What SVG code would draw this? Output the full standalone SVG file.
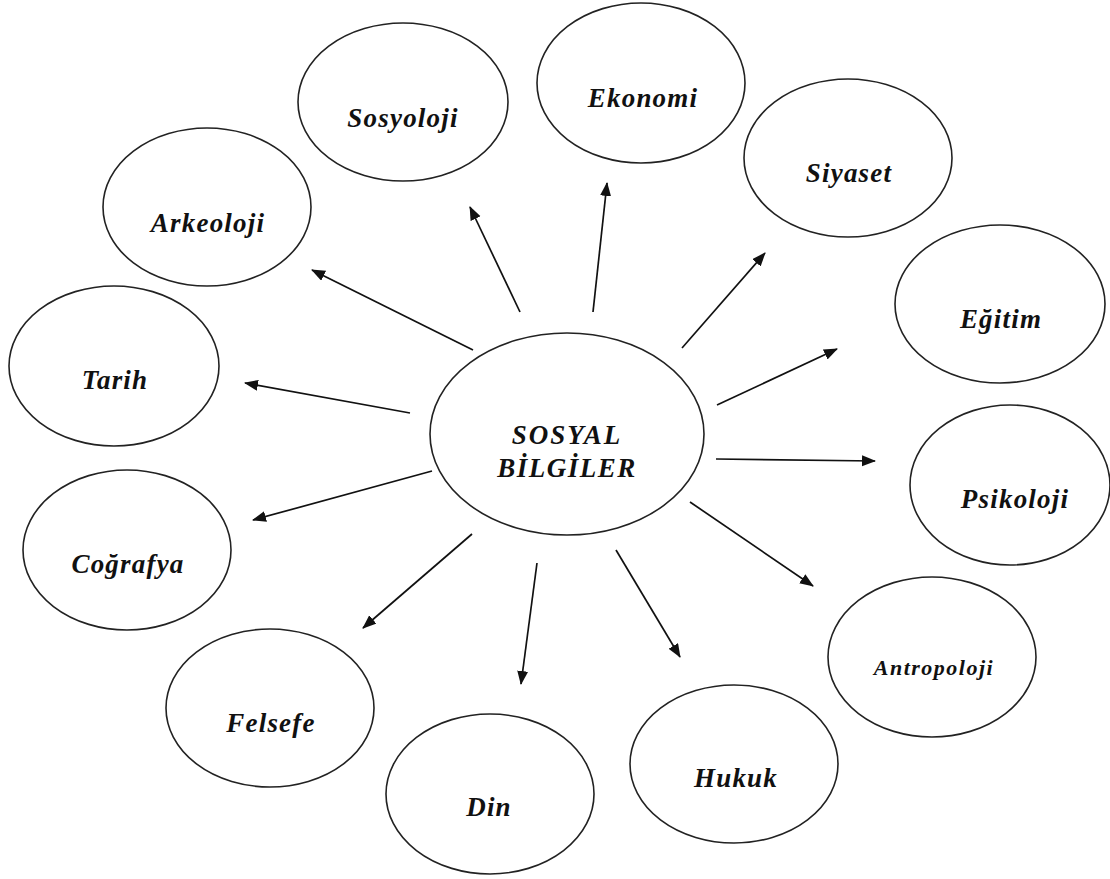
<svg xmlns="http://www.w3.org/2000/svg" width="1110" height="879" viewBox="0 0 1110 879">
<style>
.n ellipse{fill:#fff;stroke:#222;stroke-width:1.6}
.n text{font-family:"Liberation Serif","Times New Roman",serif;font-weight:bold;font-style:italic;font-size:27px;letter-spacing:1.2px;text-anchor:middle;fill:#111}
.c line{stroke:#111;stroke-width:1.7;marker-end:url(#ah)}
</style>
<defs>
<marker id="ah" markerUnits="userSpaceOnUse" markerWidth="14" markerHeight="12" refX="13" refY="5.5" orient="auto">
<path d="M0,0 L14,5.5 L0,11 z" fill="#111"/>
</marker>
</defs>
<rect width="1110" height="879" fill="#fff"/>
<g class="c" id="connectors">
<line x1="473" y1="350" x2="312" y2="270"/>
<line x1="520" y1="312" x2="470" y2="207"/>
<line x1="593" y1="312" x2="607" y2="183"/>
<line x1="682" y1="348" x2="765" y2="253"/>
<line x1="717" y1="405" x2="837" y2="349"/>
<line x1="716" y1="459" x2="875" y2="461"/>
<line x1="690" y1="502" x2="813" y2="586"/>
<line x1="616" y1="550" x2="680" y2="657"/>
<line x1="537" y1="563" x2="521" y2="684"/>
<line x1="472" y1="534" x2="363" y2="628"/>
<line x1="432" y1="471" x2="253" y2="520"/>
<line x1="410" y1="413" x2="245" y2="383"/>
</g>
<g class="n" id="center"><ellipse cx="567" cy="434" rx="137" ry="101"/><text x="567" y="444" style="letter-spacing:2px">SOSYAL</text><text x="567" y="477" style="letter-spacing:1.5px">BİLGİLER</text></g>
<g class="n" id="sosyoloji"><ellipse cx="403" cy="102" rx="105" ry="79"/><text x="403" y="127">Sosyoloji</text></g>
<g class="n" id="ekonomi"><ellipse cx="641" cy="83" rx="104" ry="80"/><text x="643" y="107">Ekonomi</text></g>
<g class="n" id="siyaset"><ellipse cx="848" cy="158" rx="104" ry="79"/><text x="849" y="182">Siyaset</text></g>
<g class="n" id="egitim"><ellipse cx="1000" cy="304" rx="105" ry="79"/><text x="1001" y="328">Eğitim</text></g>
<g class="n" id="psikoloji"><ellipse cx="1010" cy="485" rx="100" ry="80"/><text x="1015" y="508">Psikoloji</text></g>
<g class="n" id="antropoloji"><ellipse cx="932" cy="657" rx="104" ry="80"/><text x="934" y="675" style="font-size:22px;letter-spacing:1.5px">Antropoloji</text></g>
<g class="n" id="hukuk"><ellipse cx="734" cy="764" rx="104" ry="79"/><text x="736" y="787">Hukuk</text></g>
<g class="n" id="din"><ellipse cx="490" cy="794" rx="104" ry="80"/><text x="489" y="816">Din</text></g>
<g class="n" id="felsefe"><ellipse cx="270" cy="708" rx="104" ry="79"/><text x="271" y="732">Felsefe</text></g>
<g class="n" id="cografya"><ellipse cx="127" cy="550" rx="104" ry="80"/><text x="128" y="573">Coğrafya</text></g>
<g class="n" id="tarih"><ellipse cx="114" cy="366" rx="105" ry="80"/><text x="115" y="389">Tarih</text></g>
<g class="n" id="arkeoloji"><ellipse cx="207" cy="207" rx="104" ry="79"/><text x="208" y="232">Arkeoloji</text></g>
</svg>
